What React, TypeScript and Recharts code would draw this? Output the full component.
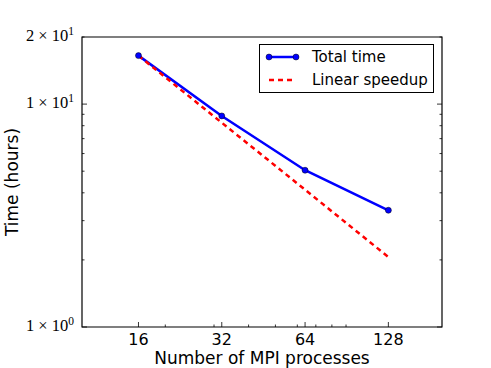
import { LineChart, Line, XAxis, YAxis, Legend, ReferenceArea } from "recharts";

const procs = [16, 32, 64, 128];
const totalTime = [16.5, 8.85, 5.05, 3.34];
const linearSpeedup = [16.5, 8.25, 4.13, 2.06];
const seriesNames = ["Total time", "Linear speedup"];

const xMajor = [16, 32, 64, 128];
const xMinor = [20, 30, 40, 50, 60, 70, 80, 90];
const yTicks = [1, 2, 3, 4, 5, 6, 7, 8, 9, 10, 20];
const yLabels: Record<number, [string, string]> = {
  1: ["1", "0"],
  10: ["1", "1"],
  20: ["2", "1"],
};

const data = procs.map((p, i) => ({
  procs: p,
  total: totalTime[i],
  linear: linearSpeedup[i],
}));

const sans = "'DejaVu Sans', sans-serif";
const serif = "'Liberation Serif', serif";

const isYMajor = (v: number) => v === 1 || v === 10;

const BottomTick = (props: any) => {
  const { x, y, payload } = props;
  const major = xMajor.includes(payload.value);
  return (
    <g>
      <line x1={x} x2={x} y1={y} y2={y - (major ? 5 : 2.5)} stroke="#000" strokeWidth={0.8} />
      {major && (
        <text x={x} y={y + 18} textAnchor="middle" fontFamily={sans} fontSize={16} fill="#000">
          {payload.value}
        </text>
      )}
    </g>
  );
};

const TopTick = (props: any) => {
  const { x, y, payload } = props;
  const major = xMajor.includes(payload.value);
  return <line x1={x} x2={x} y1={y} y2={y + (major ? 5 : 2.5)} stroke="#000" strokeWidth={0.8} />;
};

const LeftTick = (props: any) => {
  const { x, y, payload } = props;
  const major = isYMajor(payload.value);
  const lab = yLabels[payload.value];
  return (
    <g>
      <line x1={x} x2={x + (major ? 5 : 2.5)} y1={y} y2={y} stroke="#000" strokeWidth={0.8} />
      {lab && (
        <text x={x - 8} y={y + 4} textAnchor="end" fontFamily={serif} fontSize={16.5} fill="#000">
          {lab[0]} × 10
          <tspan dy={-6} fontSize={11.5}>
            {lab[1]}
          </tspan>
        </text>
      )}
    </g>
  );
};

const RightTick = (props: any) => {
  const { x, y, payload } = props;
  const major = isYMajor(payload.value);
  return <line x1={x} x2={x - (major ? 5 : 2.5)} y1={y} y2={y} stroke="#000" strokeWidth={0.8} />;
};

const renderLegend = (props: any) => {
  const items = [...(props.payload || [])].sort(
    (a: any, b: any) => seriesNames.indexOf(a.value) - seriesNames.indexOf(b.value)
  );
  return (
    <div
      style={{
        width: 175,
        height: 49,
        boxSizing: "border-box",
        border: "1px solid #000",
        background: "#fff",
        position: "relative",
        fontFamily: sans,
        fontSize: 15,
      }}
    >
      {items.map((entry: any, i: number) => {
        const dashed = !!entry.payload?.strokeDasharray;
        return (
          <div key={entry.value} style={{ position: "absolute", left: 0, top: 2 + i * 23, height: 20, width: "100%" }}>
            <svg width={45} height={20} style={{ position: "absolute", left: 0, top: 0 }}>
              <line
                x1={9}
                x2={36}
                y1={10}
                y2={10}
                stroke={entry.color}
                strokeWidth={2.5}
                strokeDasharray={dashed ? "5 4" : undefined}
              />
              {!dashed && (
                <>
                  <circle cx={9} cy={10} r={3} fill="#0000ff" stroke="#000" strokeWidth={0.5} />
                  <circle cx={36} cy={10} r={3} fill="#0000ff" stroke="#000" strokeWidth={0.5} />
                </>
              )}
            </svg>
            <span style={{ position: "absolute", left: 52, top: 1, lineHeight: "18px", whiteSpace: "nowrap" }}>
              {entry.value}
            </span>
          </div>
        );
      })}
    </div>
  );
};

export default function App() {
  return (
    <div style={{ position: "absolute", left: 0, top: 0, width: 491, height: 368, background: "#fff" }}>
      <LineChart width={491} height={368} data={data} margin={{ top: 36, right: 48, bottom: 0, left: 0 }}>
        <XAxis
          xAxisId="x"
          dataKey="procs"
          type="number"
          scale="log"
          domain={[10, 200]}
          allowDataOverflow
          ticks={[...xMajor, ...xMinor]}
          interval={0}
          tickSize={0}
          tickMargin={0}
          axisLine={false}
          tickLine={false}
          tick={<BottomTick />}
          height={41}
          label={{
            value: "Number of MPI processes",
            position: "insideBottom",
            offset: 4,
            style: { fontFamily: sans, fontSize: 17, fill: "#000" },
          }}
        />
        <XAxis
          xAxisId="top"
          orientation="top"
          type="number"
          scale="log"
          domain={[10, 200]}
          allowDataOverflow
          ticks={[...xMajor, ...xMinor]}
          interval={0}
          tickSize={0}
          tickMargin={0}
          axisLine={false}
          tickLine={false}
          tick={<TopTick />}
          height={1}
        />
        <YAxis
          yAxisId="y"
          type="number"
          scale="log"
          domain={[1, 20]}
          allowDataOverflow
          ticks={yTicks}
          interval={0}
          tickSize={0}
          tickMargin={0}
          axisLine={false}
          tickLine={false}
          tick={<LeftTick />}
          width={82}
          label={{
            value: "Time (hours)",
            angle: -90,
            position: "insideLeft",
            offset: 12,
            style: { fontFamily: sans, fontSize: 17, fill: "#000", textAnchor: "middle" },
          }}
        />
        <YAxis
          yAxisId="right"
          orientation="right"
          type="number"
          scale="log"
          domain={[1, 20]}
          allowDataOverflow
          ticks={yTicks}
          interval={0}
          tickSize={0}
          tickMargin={0}
          axisLine={false}
          tickLine={false}
          tick={<RightTick />}
          width={1}
        />
        <ReferenceArea
          xAxisId="x"
          yAxisId="y"
          x1={10}
          x2={200}
          y1={1}
          y2={20}
          fill="none"
          fillOpacity={0}
          stroke="#000"
          strokeWidth={1.2}
          ifOverflow="extendDomain"
        />
        <Line
          xAxisId="x"
          yAxisId="y"
          dataKey="total"
          name="Total time"
          stroke="#0000ff"
          strokeWidth={2.5}
          dot={{ r: 3, fill: "#0000ff", stroke: "#000", strokeWidth: 0.5 }}
          isAnimationActive={false}
        />
        <Line
          xAxisId="x"
          yAxisId="y"
          dataKey="linear"
          name="Linear speedup"
          stroke="#ff0000"
          strokeWidth={2.5}
          strokeDasharray="5 4"
          dot={false}
          isAnimationActive={false}
        />
        <Legend
          layout="horizontal"
          verticalAlign="middle"
          align="center"
          content={renderLegend}
          wrapperStyle={{ left: 259, top: 44, width: 175, height: 49 }}
        />
      </LineChart>
    </div>
  );
}
